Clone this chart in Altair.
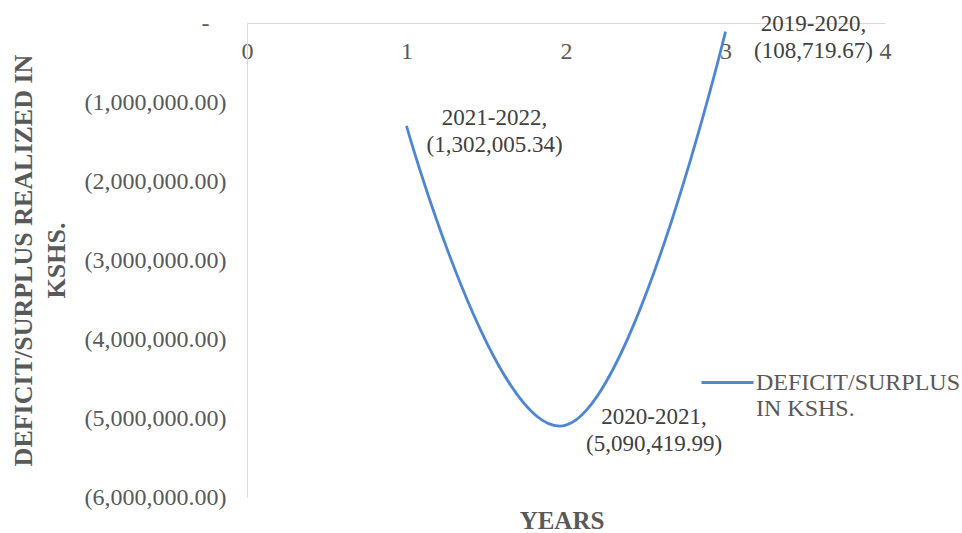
import altair as alt
import pandas as pd

# Fiscal years plotted at positions 1..3, with the realized balance in KSHS
periods = ["2021-2022", "2020-2021", "2019-2020"]
positions = [1, 2, 3]
balances = [-1302005.34, -5090419.99, -108719.67]
series_name = "DEFICIT/SURPLUS IN KSHS."

x_ticks = [0, 1, 2, 3, 4]
y_ticks = [0, -1000000, -2000000, -3000000, -4000000, -5000000, -6000000]

point_labels = [f"{p},\n({abs(v):,.2f})" for p, v in zip(periods, balances)]

df = pd.DataFrame({
    "position": positions,
    "balance": balances,
    "period": periods,
    "label": point_labels,
    "series": [series_name] * len(positions),
})

W, H = 638, 474
FONT = "Liberation Serif"
GREY = "#595959"

x_enc = alt.X(
    "position:Q",
    scale=alt.Scale(domain=[0, 4], nice=False, zero=False),
    axis=alt.Axis(
        values=x_ticks,
        orient="bottom",
        offset=-H,
        ticks=False,
        tickSize=0,
        grid=False,
        labelFlush=False,
        domainColor="#d9d9d9",
        labelFont=FONT,
        labelFontSize=24,
        labelColor=GREY,
        labelPadding=28,
        labelBaseline="middle",
        title="YEARS",
        titleFont=FONT,
        titleFontSize=25,
        titleFontWeight="bold",
        titleColor=GREY,
        titleX=314.5,
        titleY=497,
        titleAlign="center",
        titleBaseline="middle",
    ),
)

y_enc = alt.Y(
    "balance:Q",
    scale=alt.Scale(domain=[-6000000, 0], nice=False, zero=False),
    axis=alt.Axis(
        values=y_ticks,
        labelExpr="datum.value == 0 ? '-' : '(' + format(abs(datum.value), ',.2f') + ')'",
        ticks=False,
        tickSize=0,
        grid=False,
        domainColor="#d9d9d9",
        labelFont=FONT,
        labelFontSize=24,
        labelColor=GREY,
        labelPadding={"condition": {"test": "datum.value == 0", "value": 38}, "value": 21},
        title=["DEFICIT/SURPLUS REALIZED IN", "KSHS."],
        titleFont=FONT,
        titleFontSize=26,
        titleFontWeight="bold",
        titleColor=GREY,
        titleAngle=270,
        titleX=-224,
        titleY=237,
        titleAlign="center",
        titleBaseline="middle",
        titleLineHeight=33,
    ),
)

base = alt.Chart(df).encode(x=x_enc, y=y_enc)

line = base.mark_line(interpolate="cardinal", tension=-0.3, strokeWidth=2.8).encode(
    color=alt.Color(
        "series:N",
        scale=alt.Scale(range=["#4f86d4"]),
        legend=alt.Legend(
            orient="none",
            legendX=453,
            legendY=332,
            title=None,
            padding=0,
            symbolType="stroke",
            symbolSize=2704,
            symbolStrokeWidth=3,
            labelOffset=1,
            labelFont=FONT,
            labelFontSize=24,
            labelColor=GREY,
            labelLimit=400,
            labelBaseline="middle",
            labelExpr="split(replace(datum.label, ' IN ', '#IN '), '#')",
        ),
    )
)

labels = base.mark_text(
    align="center",
    baseline="middle",
    dx=88,
    dy=-8,
    lineBreak="\n",
    lineHeight=27,
    font=FONT,
    fontSize=23,
    color="#404040",
).encode(text="label:N")

chart = (
    alt.layer(line, labels)
    .properties(
        width=W,
        height=H,
        padding={"left": 247, "top": 23, "right": 77, "bottom": 36},
        autosize=alt.AutoSizeParams(type="none"),
        background="white",
    )
    .configure_view(stroke=None)
)

chart.save("out.html", embed_options={"renderer": "svg", "actions": False})
